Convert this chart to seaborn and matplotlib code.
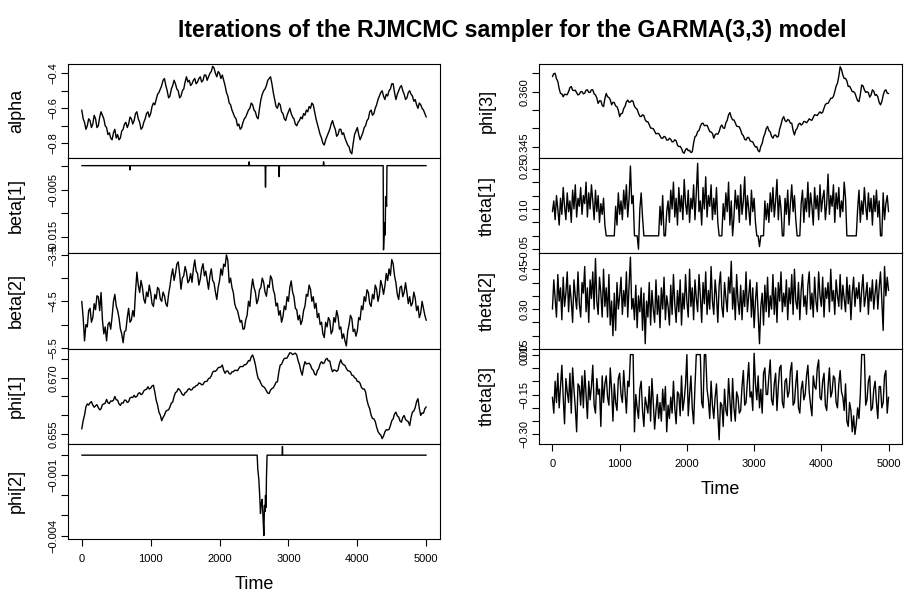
import numpy as np
import matplotlib.pyplot as plt
import seaborn as sns

sns.set_style("white")
plt.rcParams['font.family'] = ['Liberation Sans', 'DejaVu Sans']
plt.rcParams['text.color'] = 'black'
plt.rcParams['axes.labelcolor'] = 'black'
plt.rcParams['xtick.color'] = 'black'
plt.rcParams['ytick.color'] = 'black'

# MCMC iterations, sampled every 20 steps
iteration = np.arange(0, 5001, 20)

alpha = [
    -0.61, -0.66, -0.68, -0.72, -0.70, -0.66, -0.67, -0.71, -0.69, -0.64, -0.66, -0.71, -0.70, -0.65, -0.62, -0.64, -0.66, -0.70, -0.71, -0.75,
    -0.74, -0.77, -0.78, -0.74, -0.72, -0.77, -0.75, -0.78, -0.77, -0.73, -0.72, -0.69, -0.68, -0.71, -0.69, -0.65, -0.66, -0.69, -0.67, -0.63,
    -0.62, -0.66, -0.68, -0.72, -0.71, -0.68, -0.66, -0.63, -0.62, -0.65, -0.63, -0.59, -0.57, -0.58, -0.55, -0.52, -0.51, -0.49, -0.47, -0.44,
    -0.43, -0.47, -0.50, -0.54, -0.53, -0.49, -0.47, -0.44, -0.46, -0.49, -0.50, -0.54, -0.53, -0.50, -0.49, -0.45, -0.42, -0.45, -0.44, -0.47,
    -0.46, -0.44, -0.43, -0.46, -0.45, -0.43, -0.42, -0.45, -0.44, -0.41, -0.41, -0.44, -0.42, -0.40, -0.39, -0.36, -0.37, -0.40, -0.42, -0.39,
    -0.40, -0.43, -0.41, -0.44, -0.47, -0.51, -0.53, -0.57, -0.58, -0.61, -0.63, -0.65, -0.66, -0.70, -0.69, -0.72, -0.71, -0.68, -0.66, -0.65,
    -0.63, -0.61, -0.60, -0.57, -0.58, -0.61, -0.62, -0.65, -0.66, -0.60, -0.55, -0.52, -0.50, -0.49, -0.47, -0.44, -0.43, -0.42, -0.46, -0.51,
    -0.55, -0.59, -0.60, -0.57, -0.58, -0.62, -0.63, -0.66, -0.67, -0.64, -0.62, -0.60, -0.63, -0.65, -0.66, -0.69, -0.70, -0.68, -0.67, -0.65,
    -0.66, -0.63, -0.64, -0.61, -0.62, -0.59, -0.60, -0.57, -0.58, -0.62, -0.66, -0.69, -0.72, -0.75, -0.77, -0.80, -0.81, -0.78, -0.76, -0.74,
    -0.72, -0.69, -0.67, -0.70, -0.72, -0.76, -0.75, -0.72, -0.72, -0.75, -0.74, -0.77, -0.79, -0.81, -0.82, -0.85, -0.86, -0.80, -0.75, -0.73,
    -0.71, -0.75, -0.78, -0.76, -0.74, -0.71, -0.70, -0.67, -0.66, -0.62, -0.61, -0.64, -0.63, -0.60, -0.58, -0.55, -0.53, -0.51, -0.50, -0.53,
    -0.55, -0.52, -0.53, -0.50, -0.49, -0.46, -0.46, -0.51, -0.55, -0.52, -0.50, -0.48, -0.47, -0.50, -0.52, -0.55, -0.54, -0.51, -0.50, -0.52,
    -0.53, -0.56, -0.55, -0.58, -0.60, -0.57, -0.58, -0.60, -0.61, -0.63, -0.65]

beta2 = [
    -4.50, -4.85, -5.35, -5.00, -5.05, -4.70, -4.65, -4.95, -4.85, -4.55, -4.68, -4.38, -4.40, -4.70, -4.31, -4.90, -5.20, -5.05, -5.35, -5.00,
    -4.95, -5.10, -4.83, -4.50, -4.35, -4.60, -4.70, -4.85, -5.09, -5.20, -5.39, -5.15, -5.13, -4.85, -4.65, -4.95, -4.90, -4.70, -4.83, -4.30,
    -3.87, -4.15, -4.31, -4.05, -4.20, -4.45, -4.54, -4.30, -4.40, -4.15, -4.31, -4.55, -4.61, -4.35, -4.45, -4.20, -4.24, -4.45, -4.50, -4.30,
    -4.38, -4.55, -4.61, -4.35, -4.17, -3.95, -3.80, -4.05, -3.90, -3.70, -3.65, -3.90, -4.24, -4.00, -3.95, -3.75, -3.87, -4.10, -4.05, -3.90,
    -4.09, -3.80, -3.61, -3.85, -3.90, -4.15, -4.02, -3.80, -3.69, -3.95, -3.85, -4.05, -4.24, -3.95, -3.80, -4.05, -4.10, -4.30, -4.46, -4.20,
    -4.05, -3.80, -3.94, -3.70, -3.75, -3.50, -3.62, -4.10, -4.00, -4.20, -4.31, -4.55, -4.65, -4.70, -4.83, -4.95, -4.91, -5.10, -5.09, -4.90,
    -4.80, -4.50, -4.61, -4.25, -4.02, -4.20, -4.30, -4.55, -4.46, -4.25, -4.20, -4.00, -4.09, -4.30, -4.39, -4.15, -4.20, -3.95, -4.02, -4.25,
    -4.35, -4.60, -4.54, -4.80, -4.70, -4.95, -4.83, -4.60, -4.68, -4.40, -4.50, -4.20, -4.06, -4.30, -4.40, -4.65, -4.68, -4.90, -4.80, -5.00,
    -4.91, -4.70, -4.60, -4.35, -4.39, -4.15, -4.24, -4.50, -4.40, -4.65, -4.54, -4.85, -4.76, -5.00, -4.95, -5.20, -5.28, -4.95, -5.05, -4.85,
    -4.91, -5.20, -5.13, -4.85, -4.95, -4.70, -4.83, -5.10, -5.05, -5.30, -5.20, -5.35, -5.46, -5.15, -5.00, -4.80, -4.87, -5.15, -5.10, -5.25,
    -5.13, -4.85, -4.90, -4.60, -4.68, -4.40, -4.50, -4.25, -4.31, -4.55, -4.61, -4.35, -4.45, -4.15, -4.24, -4.50, -4.35, -4.05, -4.17, -4.35,
    -4.17, -3.90, -4.05, -3.80, -3.94, -3.60, -3.69, -3.95, -4.10, -4.35, -4.46, -4.20, -4.17, -4.40, -4.30, -4.10, -4.31, -4.55, -4.40, -4.60,
    -4.54, -4.30, -4.43, -4.70, -4.60, -4.85, -4.75, -4.50, -4.65, -4.80, -4.91]

phi1 = [
    0.6563, 0.6585, 0.6600, 0.6622, 0.6630, 0.6627, 0.6633, 0.6636, 0.6627, 0.6621, 0.6625, 0.6628, 0.6620, 0.6614, 0.6617, 0.6628, 0.6630, 0.6632, 0.6642, 0.6633,
    0.6631, 0.6638, 0.6637, 0.6640, 0.6650, 0.6641, 0.6640, 0.6630, 0.6626, 0.6633, 0.6632, 0.6640, 0.6640, 0.6634, 0.6636, 0.6646, 0.6648, 0.6647, 0.6653, 0.6648,
    0.6650, 0.6658, 0.6660, 0.6655, 0.6657, 0.6665, 0.6668, 0.6669, 0.6676, 0.6670, 0.6672, 0.6678, 0.6680, 0.6662, 0.6640, 0.6627, 0.6608, 0.6600, 0.6585, 0.6594,
    0.6600, 0.6610, 0.6613, 0.6614, 0.6622, 0.6632, 0.6635, 0.6650, 0.6660, 0.6663, 0.6671, 0.6668, 0.6662, 0.6655, 0.6653, 0.6660, 0.6662, 0.6668, 0.6671, 0.6667,
    0.6668, 0.6674, 0.6675, 0.6679, 0.6680, 0.6686, 0.6685, 0.6681, 0.6682, 0.6689, 0.6690, 0.6691, 0.6698, 0.6699, 0.6705, 0.6715, 0.6718, 0.6717, 0.6721, 0.6727,
    0.6728, 0.6729, 0.6734, 0.6720, 0.6712, 0.6718, 0.6718, 0.6711, 0.6710, 0.6716, 0.6716, 0.6720, 0.6720, 0.6719, 0.6725, 0.6730, 0.6730, 0.6730, 0.6735, 0.6735,
    0.6739, 0.6746, 0.6745, 0.6756, 0.6761, 0.6750, 0.6735, 0.6714, 0.6698, 0.6694, 0.6685, 0.6678, 0.6676, 0.6672, 0.6665, 0.6659, 0.6658, 0.6667, 0.6671, 0.6673,
    0.6680, 0.6688, 0.6689, 0.6715, 0.6734, 0.6736, 0.6745, 0.6752, 0.6752, 0.6753, 0.6760, 0.6767, 0.6766, 0.6762, 0.6764, 0.6766, 0.6761, 0.6746, 0.6735, 0.6718,
    0.6707, 0.6729, 0.6743, 0.6737, 0.6738, 0.6739, 0.6734, 0.6724, 0.6720, 0.6710, 0.6707, 0.6719, 0.6725, 0.6737, 0.6743, 0.6738, 0.6740, 0.6749, 0.6752, 0.6745,
    0.6745, 0.6727, 0.6716, 0.6721, 0.6720, 0.6717, 0.6721, 0.6738, 0.6748, 0.6738, 0.6735, 0.6733, 0.6725, 0.6719, 0.6718, 0.6716, 0.6707, 0.6706, 0.6700, 0.6698,
    0.6690, 0.6690, 0.6685, 0.6674, 0.6670, 0.6670, 0.6662, 0.6640, 0.6626, 0.6617, 0.6600, 0.6591, 0.6590, 0.6583, 0.6568, 0.6556, 0.6550, 0.6547, 0.6537, 0.6544,
    0.6555, 0.6561, 0.6560, 0.6562, 0.6572, 0.6585, 0.6590, 0.6603, 0.6608, 0.6598, 0.6595, 0.6584, 0.6581, 0.6594, 0.6599, 0.6588, 0.6585, 0.6582, 0.6572, 0.6594,
    0.6608, 0.6611, 0.6620, 0.6636, 0.6644, 0.6618, 0.6599, 0.6606, 0.6605, 0.6617, 0.6622]

phi3 = [
    0.3641, 0.3649, 0.3650, 0.3635, 0.3628, 0.3608, 0.3595, 0.3594, 0.3586, 0.3593, 0.3592, 0.3592, 0.3600, 0.3611, 0.3614, 0.3604, 0.3603, 0.3604, 0.3597, 0.3591,
    0.3593, 0.3600, 0.3600, 0.3594, 0.3596, 0.3604, 0.3605, 0.3598, 0.3598, 0.3605, 0.3605, 0.3594, 0.3591, 0.3583, 0.3568, 0.3575, 0.3575, 0.3563, 0.3559, 0.3581,
    0.3595, 0.3586, 0.3584, 0.3578, 0.3564, 0.3571, 0.3570, 0.3561, 0.3559, 0.3549, 0.3532, 0.3540, 0.3541, 0.3554, 0.3560, 0.3572, 0.3577, 0.3571, 0.3572, 0.3576,
    0.3573, 0.3560, 0.3555, 0.3552, 0.3541, 0.3533, 0.3532, 0.3537, 0.3535, 0.3523, 0.3518, 0.3518, 0.3510, 0.3501, 0.3500, 0.3499, 0.3492, 0.3485, 0.3486, 0.3486,
    0.3480, 0.3473, 0.3473, 0.3478, 0.3476, 0.3468, 0.3468, 0.3473, 0.3470, 0.3463, 0.3464, 0.3469, 0.3466, 0.3454, 0.3450, 0.3451, 0.3445, 0.3435, 0.3432, 0.3442,
    0.3445, 0.3439, 0.3440, 0.3434, 0.3436, 0.3460, 0.3477, 0.3480, 0.3491, 0.3494, 0.3505, 0.3513, 0.3514, 0.3507, 0.3508, 0.3508, 0.3500, 0.3491, 0.3490, 0.3486,
    0.3473, 0.3483, 0.3485, 0.3484, 0.3491, 0.3504, 0.3509, 0.3501, 0.3500, 0.3515, 0.3522, 0.3537, 0.3543, 0.3530, 0.3523, 0.3523, 0.3515, 0.3506, 0.3505, 0.3504,
    0.3495, 0.3484, 0.3480, 0.3470, 0.3468, 0.3475, 0.3475, 0.3466, 0.3464, 0.3463, 0.3455, 0.3449, 0.3450, 0.3439, 0.3436, 0.3451, 0.3459, 0.3476, 0.3485, 0.3499,
    0.3505, 0.3494, 0.3490, 0.3478, 0.3473, 0.3481, 0.3482, 0.3476, 0.3478, 0.3498, 0.3510, 0.3525, 0.3532, 0.3521, 0.3518, 0.3524, 0.3522, 0.3514, 0.3514, 0.3494,
    0.3482, 0.3495, 0.3500, 0.3511, 0.3514, 0.3509, 0.3512, 0.3519, 0.3518, 0.3515, 0.3520, 0.3526, 0.3523, 0.3522, 0.3530, 0.3537, 0.3536, 0.3535, 0.3541, 0.3545,
    0.3541, 0.3544, 0.3555, 0.3565, 0.3568, 0.3568, 0.3575, 0.3582, 0.3582, 0.3587, 0.3600, 0.3615, 0.3623, 0.3642, 0.3668, 0.3660, 0.3645, 0.3636, 0.3636, 0.3629,
    0.3614, 0.3615, 0.3608, 0.3600, 0.3600, 0.3596, 0.3585, 0.3575, 0.3573, 0.3592, 0.3618, 0.3616, 0.3605, 0.3598, 0.3600, 0.3597, 0.3585, 0.3591, 0.3605, 0.3601,
    0.3590, 0.3592, 0.3586, 0.3571, 0.3564, 0.3573, 0.3590, 0.3602, 0.3605, 0.3596, 0.3595]

theta1 = [
    0.09, 0.13, 0.06, 0.15, 0.10, 0.04, 0.14, 0.08, 0.18, 0.11, 0.06, 0.16, 0.09, 0.13, 0.05, 0.17, 0.10, 0.19, 0.07, 0.14,
    0.11, 0.18, 0.08, 0.15, 0.12, 0.20, 0.07, 0.16, 0.10, 0.19, 0.13, 0.06, 0.17, 0.09, 0.15, 0.05, 0.12, 0.08, 0.14, 0.04,
    0.00, 0.00, 0.00, 0.00, 0.00, 0.00, 0.00, 0.11, 0.04, 0.16, 0.08, 0.13, 0.06, 0.17, 0.10, 0.19, 0.07, 0.14, 0.26, 0.12,
    0.15, 0.00, 0.00, 0.00, -0.05, 0.10, 0.16, 0.07, 0.00, 0.00, 0.00, 0.00, 0.00, 0.00, 0.00, 0.00, 0.00, 0.00, 0.00, 0.00,
    0.11, 0.04, 0.15, 0.00, 0.00, 0.09, 0.13, 0.05, 0.17, 0.10, 0.20, 0.07, 0.14, 0.04, 0.18, 0.09, 0.15, 0.06, 0.21, 0.12,
    0.08, 0.17, 0.05, 0.14, 0.10, 0.19, 0.06, 0.16, 0.27, 0.09, 0.13, 0.04, 0.18, 0.10, 0.22, 0.07, 0.15, 0.11, 0.19, 0.06,
    0.14, 0.08, 0.18, 0.05, 0.00, 0.00, 0.00, 0.12, 0.06, 0.16, 0.09, 0.20, 0.04, 0.13, 0.00, 0.07, 0.17, 0.10, 0.15, 0.05,
    0.19, 0.08, 0.13, 0.22, 0.06, 0.15, 0.10, 0.04, 0.17, 0.09, 0.14, 0.05, 0.00, 0.00, -0.04, 0.00, 0.00, 0.00, 0.13, 0.06,
    0.12, 0.05, 0.16, 0.09, 0.18, 0.07, 0.13, 0.21, 0.06, 0.15, 0.10, 0.00, 0.00, 0.14, 0.08, 0.17, 0.04, 0.12, 0.19, 0.09,
    0.15, 0.06, 0.00, 0.00, 0.00, 0.12, 0.17, 0.05, 0.14, 0.09, 0.20, 0.07, 0.16, 0.11, 0.04, 0.18, 0.10, 0.15, 0.06, 0.19,
    0.09, 0.14, 0.17, 0.06, 0.12, 0.23, 0.08, 0.15, 0.11, 0.19, 0.05, 0.16, 0.10, 0.18, 0.07, 0.13, 0.09, 0.20, 0.14, 0.00,
    0.00, 0.00, 0.00, 0.00, 0.00, 0.00, 0.00, 0.10, 0.17, 0.05, 0.13, 0.08, 0.18, 0.11, 0.06, 0.16, 0.09, 0.14, 0.04, 0.15,
    0.09, 0.17, 0.07, 0.13, 0.00, 0.00, 0.16, 0.06, 0.12, 0.15, 0.09]

theta2 = [
    0.30, 0.41, 0.34, 0.27, 0.43, 0.33, 0.38, 0.26, 0.42, 0.31, 0.36, 0.44, 0.29, 0.39, 0.33, 0.25, 0.41, 0.35, 0.30, 0.44,
    0.32, 0.27, 0.40, 0.36, 0.46, 0.29, 0.38, 0.25, 0.41, 0.34, 0.44, 0.30, 0.49, 0.33, 0.28, 0.42, 0.36, 0.27, 0.45, 0.31,
    0.38, 0.27, 0.43, 0.24, 0.33, 0.20, 0.36, 0.22, 0.40, 0.30, 0.35, 0.42, 0.28, 0.37, 0.31, 0.44, 0.27, 0.39, 0.495, 0.30,
    0.34, 0.26, 0.39, 0.23, 0.35, 0.29, 0.38, 0.22, 0.36, 0.17, 0.33, 0.27, 0.40, 0.24, 0.37, 0.30, 0.25, 0.41, 0.28, 0.35,
    0.23, 0.38, 0.30, 0.42, 0.26, 0.35, 0.31, 0.24, 0.39, 0.28, 0.43, 0.32, 0.25, 0.37, 0.29, 0.41, 0.24, 0.36, 0.30, 0.43,
    0.33, 0.27, 0.45, 0.31, 0.38, 0.26, 0.41, 0.34, 0.29, 0.43, 0.35, 0.25, 0.40, 0.32, 0.44, 0.28, 0.37, 0.30, 0.46, 0.33,
    0.28, 0.41, 0.35, 0.25, 0.39, 0.44, 0.31, 0.27, 0.40, 0.34, 0.29, 0.42, 0.36, 0.48, 0.30, 0.38, 0.26, 0.43, 0.33, 0.28,
    0.39, 0.26, 0.37, 0.31, 0.44, 0.29, 0.35, 0.41, 0.27, 0.38, 0.23, 0.33, 0.40, 0.28, 0.17, 0.31, 0.36, 0.24, 0.39, 0.29,
    0.42, 0.27, 0.35, 0.30, 0.43, 0.28, 0.38, 0.25, 0.40, 0.33, 0.44, 0.29, 0.36, 0.31, 0.41, 0.26, 0.38, 0.32, 0.43, 0.28,
    0.45, 0.33, 0.30, 0.40, 0.26, 0.37, 0.43, 0.31, 0.35, 0.28, 0.39, 0.44, 0.30, 0.36, 0.27, 0.42, 0.33, 0.29, 0.44, 0.35,
    0.31, 0.42, 0.27, 0.38, 0.34, 0.40, 0.29, 0.45, 0.33, 0.37, 0.28, 0.41, 0.35, 0.31, 0.43, 0.30, 0.39, 0.34, 0.29, 0.42,
    0.32, 0.39, 0.26, 0.36, 0.42, 0.31, 0.38, 0.34, 0.40, 0.29, 0.37, 0.43, 0.31, 0.35, 0.40, 0.28, 0.38, 0.33, 0.41, 0.30,
    0.36, 0.41, 0.30, 0.38, 0.44, 0.33, 0.22, 0.46, 0.35, 0.42, 0.37]

theta3 = [
    -0.16, -0.22, -0.10, -0.18, -0.07, -0.20, -0.12, -0.04, -0.16, -0.26, -0.09, -0.14, -0.18, -0.07, -0.22, -0.05, -0.13, -0.20, -0.29, -0.11,
    -0.12, -0.19, -0.08, -0.20, -0.06, -0.15, -0.24, -0.10, -0.17, -0.12, -0.04, -0.19, -0.22, -0.09, -0.15, -0.13, -0.27, -0.08, -0.18, -0.11,
    -0.08, -0.16, -0.19, -0.05, -0.13, -0.25, -0.11, -0.18, -0.21, -0.09, -0.07, -0.15, -0.18, -0.06, -0.14, -0.22, -0.10, -0.12, 0.00, 0.00,
    0.00, -0.29, -0.15, -0.20, -0.24, -0.13, -0.10, -0.21, -0.27, -0.16, -0.19, -0.22, -0.12, -0.25, -0.09, -0.18, -0.28, -0.21, -0.15, -0.24,
    -0.18, -0.25, -0.13, -0.21, -0.12, -0.29, -0.19, -0.24, -0.16, -0.22, -0.10, -0.20, -0.26, -0.14, -0.15, -0.23, -0.08, -0.21, -0.17, -0.11,
    0.00, -0.23, -0.15, -0.08, -0.20, -0.26, -0.12, 0.00, 0.00, 0.00, 0.00, -0.18, -0.20, 0.00, 0.00, -0.13, -0.17, -0.24, -0.10, -0.19,
    -0.24, -0.16, -0.11, -0.22, -0.32, -0.18, -0.19, -0.27, -0.13, -0.21, -0.23, -0.09, -0.17, -0.25, -0.09, -0.20, -0.25, -0.14, -0.16, -0.22,
    -0.21, -0.12, -0.06, -0.19, -0.18, -0.10, -0.03, -0.16, -0.14, -0.21, 0.005, -0.11, -0.17, -0.08, -0.20, -0.13, -0.22, -0.07, -0.05, -0.15,
    -0.15, -0.08, -0.02, -0.17, -0.19, -0.11, -0.07, -0.21, -0.12, -0.05, -0.04, -0.18, -0.20, -0.10, -0.09, -0.16, -0.14, -0.06, -0.03, -0.19,
    -0.18, -0.11, -0.06, -0.20, -0.22, -0.13, -0.10, -0.17, -0.15, -0.08, -0.04, -0.14, -0.19, -0.23, -0.08, -0.12, -0.13, -0.05, -0.02, -0.16,
    -0.17, -0.10, -0.07, -0.19, -0.21, -0.12, -0.05, -0.16, -0.14, -0.08, -0.09, -0.18, -0.20, -0.11, -0.06, -0.14, -0.16, -0.21, -0.11, -0.25,
    -0.27, -0.18, -0.21, -0.29, -0.23, -0.30, -0.26, -0.20, -0.24, -0.15, 0.00, 0.00, 0.00, -0.19, -0.17, -0.10, -0.08, -0.21, -0.20, -0.13,
    -0.10, -0.18, -0.24, -0.12, -0.12, -0.20, -0.18, -0.08, -0.06, -0.22, -0.16]

# sparse traces: mostly zero with a few moves
beta1_iter = [0, 695, 700, 705, 2425, 2430, 2435, 2662, 2667, 2672, 2860, 2865,
              2870, 3505, 3510, 3515, 4375, 4380, 4395, 4405, 4410, 4425, 4430, 5000]
beta1 = [0, 0, -0.0009, 0, 0, 0.0008, 0, 0, -0.0045, 0, 0, -0.0023,
         0, 0, 0.0008, 0, 0, -0.0176, -0.0120, -0.0145, -0.0065, -0.0085, 0, 0]

phi2_iter = [0, 2546, 2555, 2570, 2584, 2594, 2605, 2618, 2630, 2643, 2652,
             2660, 2667, 2675, 2681, 2690, 2910, 2913, 2916, 5000]
phi2 = [0, 0, -0.0007, -0.0012, -0.0021, -0.0029, -0.0024, -0.0022, -0.0030,
        -0.0040, -0.0025, -0.0028, -0.0020, -0.0026, -0.0011, 0, 0, 0.00043, 0, 0]

# y ticks and the labels R kept after dropping overlapping ones
alpha_ticks = [-0.8, -0.7, -0.6, -0.5, -0.4]
alpha_labels = ["\u22120.8", "", "\u22120.6", "", "\u22120.4"]
beta1_ticks = [-0.015, -0.010, -0.005, 0.0]
beta1_labels = ["\u22120.015", "", "\u22120.005", ""]
beta2_ticks = [-5.5, -5.0, -4.5, -4.0, -3.5]
beta2_labels = ["\u22125.5", "", "\u22124.5", "", "\u22123.5"]
phi1_ticks = [0.655, 0.660, 0.665, 0.670, 0.675]
phi1_labels = ["0.655", "", "", "0.670", ""]
phi2_ticks = [-0.004, -0.003, -0.002, -0.001, 0.0]
phi2_labels = ["\u22120.004", "", "", "\u22120.001", ""]
phi3_ticks = [0.345, 0.350, 0.355, 0.360, 0.365]
phi3_labels = ["0.345", "", "", "0.360", ""]
theta1_ticks = [-0.05, 0.00, 0.05, 0.10, 0.15, 0.20, 0.25]
theta1_labels = ["\u22120.05", "", "", "0.10", "", "", "0.25"]
theta2_ticks = [0.15, 0.20, 0.25, 0.30, 0.35, 0.40, 0.45]
theta2_labels = ["0.15", "", "", "0.30", "", "", "0.45"]
theta3_ticks = [-0.30, -0.25, -0.20, -0.15, -0.10, -0.05, 0.00]
theta3_labels = ["\u22120.30", "", "", "\u22120.15", "", "", "0.00"]
time_ticks = [0, 1000, 2000, 3000, 4000, 5000]

W, H = 912, 593
fig = plt.figure(figsize=(W / 100, H / 100), dpi=100)


def panel(x0, x1, y0, y1):
    return fig.add_axes([x0 / W, 1 - y1 / H, (x1 - x0) / W, (y1 - y0) / H])


def trace(ax, x, y, name, ylim, ticks, labels, bottom):
    sns.lineplot(x=x, y=y, ax=ax, color="black", linewidth=1.0,
                 estimator=None, sort=False)
    ax.set_xlim(-200, 5200)
    ax.set_ylim(*ylim)
    ax.set_yticks(ticks)
    ax.set_yticklabels(labels, rotation=90, va="center", fontsize=8)
    ax.tick_params(axis="y", direction="out", length=5, width=0.8, pad=2, left=True)
    for s in ax.spines.values():
        s.set_color("black")
        s.set_linewidth(0.8)
    wpx = ax.get_position().width * W
    ax.set_ylabel(name, fontsize=13)
    ax.yaxis.set_label_coords(-43 / wpx, 0.5)
    if bottom:
        ax.set_xticks(time_ticks)
        ax.set_xticklabels([str(t) for t in time_ticks], fontsize=8)
        ax.tick_params(axis="x", direction="out", length=5, width=0.8, pad=6, bottom=True)
        ax.set_xlabel("Time", fontsize=13)
        hpx = ax.get_position().height * H
        ax.xaxis.set_label_coords(0.5, -37 / hpx)
    else:
        ax.set_xticks([])
        ax.set_xlabel("")


rows = [64, 158, 253, 349, 443.5, 539]

left = [
    (iteration, alpha, "alpha", (-0.884, -0.347), alpha_ticks, alpha_labels),
    (beta1_iter, beta1, "beta[1]", (-0.01827, 0.0016), beta1_ticks, beta1_labels),
    (iteration, beta2, "beta[2]", (-5.526, -3.459), beta2_ticks, beta2_labels),
    (iteration, phi1, "phi[1]", (0.6524, 0.6777), phi1_ticks, phi1_labels),
    (phi2_iter, phi2, "phi[2]", (-0.00417, 0.00058), phi2_ticks, phi2_labels),
]
right = [
    (iteration, phi3, "phi[3]", (0.34191, 0.36754), phi3_ticks, phi3_labels),
    (iteration, theta1, "theta[1]", (-0.064, 0.290), theta1_ticks, theta1_labels),
    (iteration, theta2, "theta[2]", (0.151, 0.511), theta2_ticks, theta2_labels),
    (iteration, theta3, "theta[3]", (-0.334, 0.021), theta3_ticks, theta3_labels),
]

for i, (x, y, name, ylim, ticks, labels) in enumerate(left):
    ax = panel(68, 440, rows[i], rows[i + 1])
    trace(ax, x, y, name, ylim, ticks, labels, i == len(left) - 1)

for i, (x, y, name, ylim, ticks, labels) in enumerate(right):
    ax = panel(539, 902, rows[i], rows[i + 1])
    trace(ax, x, y, name, ylim, ticks, labels, i == len(right) - 1)

fig.text(512 / W, 1 - 30 / H, "Iterations of the RJMCMC sampler for the GARMA(3,3) model",
         ha="center", va="center", fontsize=16.7, fontweight="bold")

fig.savefig("out.png", dpi=100)
